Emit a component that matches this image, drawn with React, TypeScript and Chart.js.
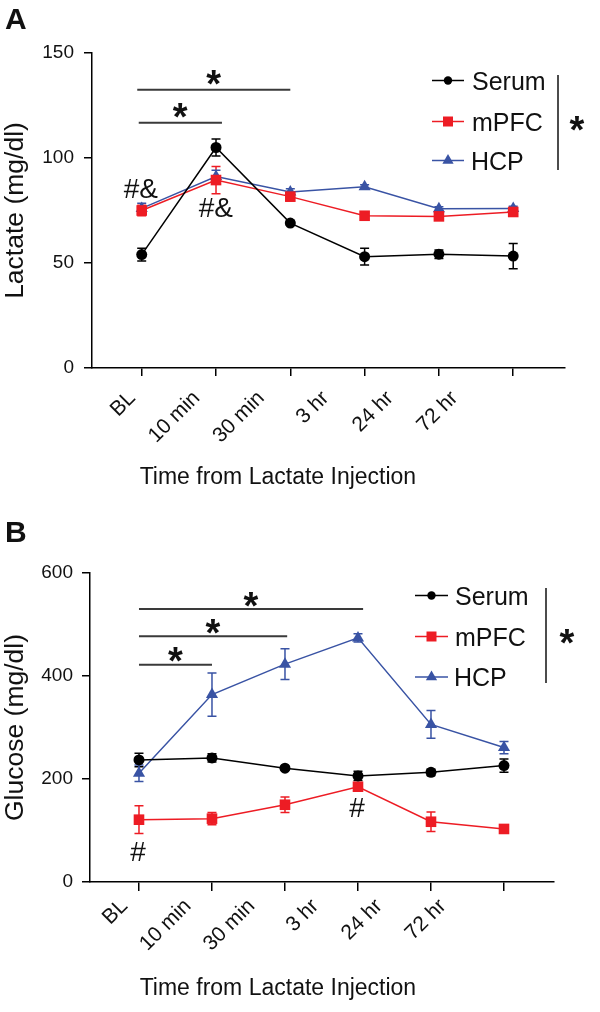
import React, { useEffect, useRef } from 'react';
import { Chart, registerables } from 'chart.js';

Chart.register(...registerables);

// ---------- data ----------
const timeLabels = ['BL', '10 min', '30 min', '3 hr', '24 hr', '72 hr'];
const timeIdx = [0, 1, 2, 3, 4, 5];
const seriesNames = ['Serum', 'mPFC', 'HCP'];

const lactateSerum = [54, 105, 69, 53, 54.2, 53.3];
const lactateSerumErr = [3, 4, 1, 4, 2, 6];
const lactateMpfc = [75, 89.5, 81.6, 72.5, 72.2, 74.3];
const lactateMpfcErr = [2.5, 6.5, 2, 1.5, 1.5, 2];
const lactateHcp = [76, 91.2, 83.8, 86.3, 75.8, 76];
const lactateHcpErr = [2.5, 3, 1.5, 1, 1, 1];

const glucoseSerum = [237, 241, 221, 206, 213, 226];
const glucoseSerumErr = [13, 8, 4, 9, 6, 13];
const glucoseMpfc = [121, 123, 150, 185, 117, 103];
const glucoseMpfcErr = [27, 12, 15, 5, 19, 8];
const glucoseHcp = [211, 364, 423, 474, 306, 261];
const glucoseHcpErr = [16, 42, 30, 8, 27, 12];

// significance brackets: from/to in time index units, y in data units
const sigLactate = [
  { from: -0.06, to: 2.0, y: 132.5 },
  { from: -0.04, to: 1.08, y: 116.8 },
];
const sigGlucose = [
  { from: 0, to: 3.07, y: 530 },
  { from: 0, to: 2.03, y: 477 },
  { from: 0, to: 1.0, y: 422 },
];
// post-hoc marks
const marksLactate = [
  { x: -0.01, y: 85.7, text: '#&' },
  { x: 1.0, y: 76.2, text: '#&' },
];
const marksGlucose = [
  { x: -0.01, y: 60, text: '#' },
  { x: 2.99, y: 145, text: '#' },
];

// ---------- styles ----------
const FONT = '"Liberation Sans", Arial, Helvetica, sans-serif';
const COLORS = ['#000000', '#ed1c24', '#3953a4'];
const STYLES = ['circle', 'rect', 'triangle'];
const RADII = [5.5, 7.5, 7];
const LEGEND_R = [4.2, 5, 6.5];
const SIG_COLOR = '#3a3a3a';

type PanelCfg = any;

const panelA: PanelCfg = {
  id: 'A',
  letter: 'A', letterX: 5, letterCY: 19,
  values: [lactateSerum, lactateMpfc, lactateHcp],
  errors: [lactateSerumErr, lactateMpfcErr, lactateHcpErr],
  yMax: 150, yStep: 50, yTitle: 'Lactate (mg/dl)',
  area: { left: 92, right: 565, top: 53, bottom: 368 },
  xMin: -0.669, xMax: 5.697, labelMin: -0.624, labelMax: 6.714,
  tickLen: 8, labelPad: 10, yLabelPad: 10,
  xTitleCX: 277.5, xTitleCY: 477,
  sig: sigLactate, sigGap: 12,
  marks: marksLactate,
  legend: { rows: [80.5, 121.5, 160.5], x0: 432, x1: 464, mx: 448, tx: 473, barX: 558, barY0: 75, barY1: 170, starX: 577, starY: 123 },
};

const panelB: PanelCfg = {
  id: 'B',
  letter: 'B', letterX: 7, letterCY: 25.5,
  values: [glucoseSerum, glucoseMpfc, glucoseHcp],
  errors: [glucoseSerumErr, glucoseMpfcErr, glucoseHcpErr],
  yMax: 600, yStep: 200, yTitle: 'Glucose (mg/dl)',
  area: { left: 90, right: 554, top: 67, bottom: 376 },
  xMin: -0.671, xMax: 5.685, labelMin: -0.539, labelMax: 6.747,
  tickLen: 9, labelPad: 3, yLabelPad: 9,
  xTitleCX: 277.5, xTitleCY: 482,
  sig: sigGlucose, sigGap: 10,
  marks: marksGlucose,
  legend: { rows: [89.5, 130.5, 171], x0: 415, x1: 448, mx: 431.5, tx: 456, barX: 546, barY0: 82, barY1: 177, starX: 567, starY: 130.7 },
};

const W = 600;
const H = 506;

// ---------- helpers ----------
function textCentered(ctx: CanvasRenderingContext2D, s: string, cx: number, cy: number, font: string, color: string, mode: 'center' | 'left' = 'center') {
  ctx.font = font;
  ctx.fillStyle = color;
  ctx.textAlign = 'left';
  ctx.textBaseline = 'alphabetic';
  const m = ctx.measureText(s);
  const asc = m.actualBoundingBoxAscent;
  const desc = m.actualBoundingBoxDescent;
  const left = m.actualBoundingBoxLeft;
  const right = m.actualBoundingBoxRight;
  const w = left + right;
  const x = mode === 'center' ? cx - w / 2 + left : cx + left;
  const y = cy + (asc - desc) / 2;
  ctx.fillText(s, x, y);
}

function drawMarker(ctx: CanvasRenderingContext2D, style: string, x: number, y: number, r: number, color: string) {
  ctx.fillStyle = color;
  ctx.beginPath();
  if (style === 'circle') {
    ctx.arc(x, y, r, 0, Math.PI * 2);
  } else if (style === 'rect') {
    ctx.rect(x - r, y - r, 2 * r, 2 * r);
  } else {
    const h = r * 1.5;
    ctx.moveTo(x, y - r);
    ctx.lineTo(x + r * 0.866, y - r + h);
    ctx.lineTo(x - r * 0.866, y - r + h);
    ctx.closePath();
  }
  ctx.fill();
}

function decorPlugin(p: PanelCfg) {
  return {
    id: 'decor' + p.id,
    beforeDatasetsDraw(chart: any) {
      const ctx: CanvasRenderingContext2D = chart.ctx;
      const xs = chart.scales.x;
      const ys = chart.scales.y;
      ctx.save();
      chart.data.datasets.forEach((ds: any) => {
        ctx.strokeStyle = ds.borderColor;
        ctx.lineWidth = 1.5;
        ds.data.forEach((pt: any, j: number) => {
          const e = ds.errors[j];
          const px = xs.getPixelForValue(pt.x);
          const y1 = ys.getPixelForValue(pt.y + e);
          const y2 = ys.getPixelForValue(pt.y - e);
          ctx.beginPath();
          ctx.moveTo(px, y1); ctx.lineTo(px, y2);
          ctx.moveTo(px - 4.5, y1); ctx.lineTo(px + 4.5, y1);
          ctx.moveTo(px - 4.5, y2); ctx.lineTo(px + 4.5, y2);
          ctx.stroke();
        });
      });
      ctx.restore();
    },
    afterDraw(chart: any) {
      const ctx: CanvasRenderingContext2D = chart.ctx;
      const xs = chart.scales.x;
      const ys = chart.scales.y;
      ctx.save();
      // significance brackets
      p.sig.forEach((s: any) => {
        const x0 = xs.getPixelForValue(s.from);
        const x1 = xs.getPixelForValue(s.to);
        const y = ys.getPixelForValue(s.y);
        ctx.strokeStyle = SIG_COLOR;
        ctx.lineWidth = 2;
        ctx.beginPath();
        ctx.moveTo(x0, y); ctx.lineTo(x1, y);
        ctx.stroke();
        textCentered(ctx, '*', (x0 + x1) / 2, y - p.sigGap, `bold 38px ${FONT}`, '#111');
      });
      // marks
      p.marks.forEach((m: any) => {
        textCentered(ctx, m.text, xs.getPixelForValue(m.x), ys.getPixelForValue(m.y), `28px ${FONT}`, '#111');
      });
      // legend
      const L = p.legend;
      chart.data.datasets.forEach((ds: any, i: number) => {
        const y = L.rows[i];
        ctx.strokeStyle = ds.borderColor;
        ctx.lineWidth = 1.5;
        ctx.beginPath();
        ctx.moveTo(L.x0, y); ctx.lineTo(L.x1, y);
        ctx.stroke();
        drawMarker(ctx, STYLES[i], L.mx, y, LEGEND_R[i], ds.borderColor);
        textCentered(ctx, ds.label, L.tx, y, `25px ${FONT}`, '#111', 'left');
      });
      ctx.strokeStyle = '#111';
      ctx.lineWidth = 1.5;
      ctx.beginPath();
      ctx.moveTo(L.barX, L.barY0); ctx.lineTo(L.barX, L.barY1);
      ctx.stroke();
      textCentered(ctx, '*', L.starX, L.starY, `bold 38px ${FONT}`, '#111');
      // x axis title
      textCentered(ctx, 'Time from Lactate Injection', p.xTitleCX, p.xTitleCY, `23px ${FONT}`, '#111');
      // panel letter
      textCentered(ctx, p.letter, p.letterX, p.letterCY, `bold 30px ${FONT}`, '#111', 'left');
      ctx.restore();
    },
  };
}

function buildConfig(p: PanelCfg): any {
  const a = p.area;
  const datasets = seriesNames.map((name, i) => ({
    label: name,
    data: timeIdx.map((x, j) => ({ x, y: p.values[i][j] })),
    errors: p.errors[i],
    borderColor: COLORS[i],
    backgroundColor: COLORS[i],
    pointBackgroundColor: COLORS[i],
    pointBorderColor: COLORS[i],
    pointStyle: STYLES[i],
    pointRadius: RADII[i],
    pointBorderWidth: 0,
    borderWidth: 1.5,
    tension: 0,
    clip: false,
  }));
  const intTicks = (s: any) => { s.ticks = timeIdx.map((v) => ({ value: v })); };
  return {
    type: 'line',
    data: { datasets },
    options: {
      animation: false,
      responsive: false,
      maintainAspectRatio: false,
      devicePixelRatio: 1,
      layout: { padding: { top: a.top, right: W - a.right, left: 0, bottom: 0 } },
      plugins: { legend: { display: false }, tooltip: { enabled: false }, title: { display: false } },
      scales: {
        x: {
          type: 'linear', position: 'bottom', weight: 0,
          min: p.xMin, max: p.xMax,
          afterBuildTicks: intTicks,
          afterFit: (s: any) => { s.height = p.tickLen; },
          grid: { display: true, drawOnChartArea: false, drawTicks: true, tickLength: p.tickLen, color: '#000', lineWidth: 1.5 },
          border: { display: true, color: '#000', width: 1.5 },
          ticks: { display: false },
        },
        xl: {
          type: 'linear', position: 'bottom', weight: 1,
          min: p.labelMin, max: p.labelMax,
          afterBuildTicks: intTicks,
          afterFit: (s: any) => { s.height = H - a.bottom - p.tickLen; },
          grid: { display: false, drawTicks: false },
          border: { display: false },
          ticks: {
            autoSkip: false, maxRotation: 45, minRotation: 45, padding: p.labelPad,
            color: '#111', font: { family: FONT, size: 21 },
            callback: (v: any) => timeLabels[Math.round(v)] ?? '',
          },
        },
        y: {
          type: 'linear', position: 'left', min: 0, max: p.yMax,
          afterFit: (s: any) => { s.width = a.left; },
          ticks: { stepSize: p.yStep, padding: p.yLabelPad, color: '#111', font: { family: FONT, size: 19 } },
          grid: { display: true, drawOnChartArea: false, drawTicks: true, tickLength: 8, color: '#000', lineWidth: 1.5 },
          border: { display: true, color: '#000', width: 1.5 },
          title: { display: true, text: p.yTitle, color: '#111', font: { family: FONT, size: 26.5 }, padding: { top: 0, bottom: 0 } },
        },
      },
    },
    plugins: [decorPlugin(p)],
  };
}

function Panel({ cfg, top }: { cfg: PanelCfg; top: number }) {
  const ref = useRef<HTMLCanvasElement>(null);
  useEffect(() => {
    const chart = new Chart(ref.current as HTMLCanvasElement, buildConfig(cfg));
    return () => chart.destroy();
  }, [cfg]);
  return (
    <canvas
      ref={ref}
      width={W}
      height={H}
      style={{ position: 'absolute', left: 0, top, width: W, height: H, display: 'block' }}
    />
  );
}

export default function App() {
  return (
    <div style={{ position: 'absolute', left: 0, top: 0, width: 600, height: 1012, background: '#fff' }}>
      <Panel cfg={panelA} top={0} />
      <Panel cfg={panelB} top={H} />
    </div>
  );
}
